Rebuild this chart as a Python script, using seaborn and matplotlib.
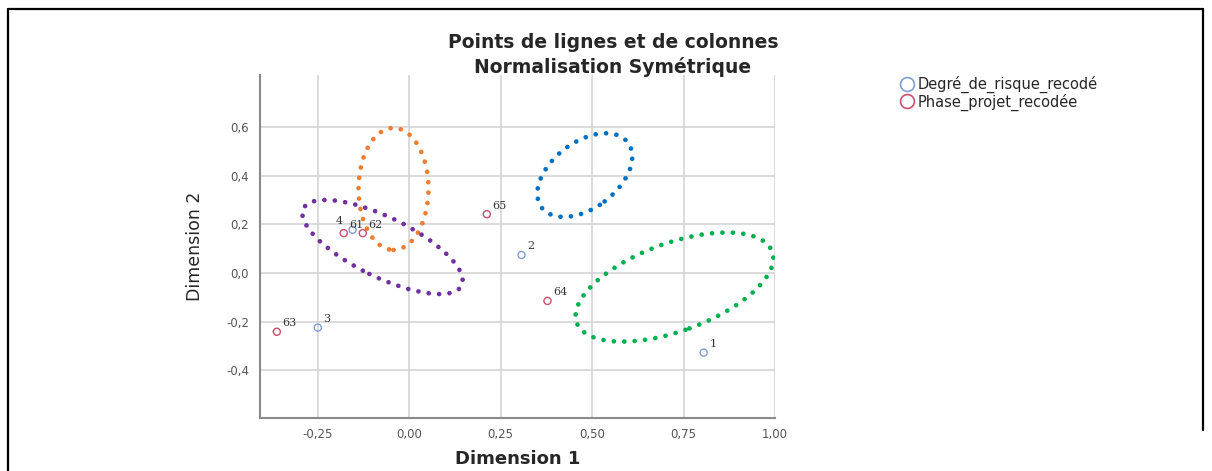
import matplotlib
matplotlib.use("Agg")
import matplotlib.pyplot as plt
import seaborn as sns
import pandas as pd
from matplotlib.patches import Ellipse
from matplotlib.lines import Line2D
from matplotlib.transforms import ScaledTranslation
from matplotlib.ticker import FuncFormatter

# Points
risque_labels = ["1", "2", "3", "4"]
risque_dim1 = [0.805, 0.307, -0.250, -0.155]
risque_dim2 = [-0.328, 0.074, -0.225, 0.178]

phase_labels = ["61", "62", "63", "64", "65"]
phase_dim1 = [-0.179, -0.127, -0.362, 0.378, 0.212]
phase_dim2 = [0.164, 0.164, -0.242, -0.115, 0.242]

series_names = ["Degré_de_risque_recodé", "Phase_projet_recodée"]
series_colors = ["#7f9fd6", "#c9506e"]

x_ticks = [-0.25, 0.00, 0.25, 0.50, 0.75, 1.00]
y_ticks = [-0.4, -0.2, 0.0, 0.2, 0.4, 0.6]

# Hand drawn dotted ellipses: centre (data), width/height (px), angle, colour
ellipse_centres = [(-0.043, 0.346), (-0.073, 0.107), (0.480, 0.403), (0.725, -0.058)]
ellipse_sizes = [(70, 122), (176, 60), (108, 66), (208, 88)]
ellipse_angles = [0, -26, 37, 20]
ellipse_colors = ["#ED7D31", "#7030A0", "#0070C0", "#00B050"]

df = pd.DataFrame({
    "Dim1": risque_dim1 + phase_dim1,
    "Dim2": risque_dim2 + phase_dim2,
    "label": risque_labels + phase_labels,
    "serie": [series_names[0]] * len(risque_labels) + [series_names[1]] * len(phase_labels),
})

sns.set_style("white")
plt.rcParams["font.family"] = ["DejaVu Sans"]

fig = plt.figure(figsize=(12.12, 4.71), dpi=100)
ax = fig.add_axes([260 / 1212, 1 - 418 / 471, 515 / 1212, 343 / 471])

sns.scatterplot(data=df, x="Dim1", y="Dim2", hue="serie", palette=series_colors,
                hue_order=series_names, s=26, marker="o", legend=False, ax=ax, zorder=3)
pts = ax.collections[0]
pts.set_edgecolors(pts.get_facecolors())
pts.set_facecolors("none")
pts.set_linewidths(1.0)

# Point labels
for _, row in df.iterrows():
    off = (-12, 4) if row["label"] == "4" else (4, 4)
    ax.annotate(row["label"], (row["Dim1"], row["Dim2"]), xytext=off,
                textcoords="offset points", fontsize=8, color="#333333",
                family="DejaVu Serif", zorder=4)

# Dotted ellipses
for (cx, cy), (w, h), ang, col in zip(ellipse_centres, ellipse_sizes, ellipse_angles, ellipse_colors):
    tr = fig.dpi_scale_trans + ScaledTranslation(cx, cy, ax.transData)
    e = Ellipse((0, 0), w / 100, h / 100, angle=ang, transform=tr, fill=False,
                edgecolor=col, linewidth=3.4, linestyle=(0, (0.01, 2.2)), zorder=5)
    e.set_capstyle("round")
    ax.add_patch(e)

ax.set_xlim(-0.408, 1.0)
ax.set_ylim(-0.597, 0.815)
ax.set_xticks(x_ticks)
ax.set_yticks(y_ticks)
ax.xaxis.set_major_formatter(FuncFormatter(lambda v, p: "{:.2f}".format(v).replace(".", ",")))
ax.yaxis.set_major_formatter(FuncFormatter(lambda v, p: "{:.1f}".format(v).replace(".", ",")))
ax.tick_params(axis="both", length=0, labelsize=8.5, labelcolor="#555555")
ax.tick_params(axis="x", pad=7)
ax.tick_params(axis="y", pad=8)
ax.grid(True, color="#d4d4d4", linewidth=1.2)
ax.set_axisbelow(True)
for side in ["top", "right"]:
    ax.spines[side].set_visible(False)
for side in ["left", "bottom"]:
    ax.spines[side].set_color("#8a8a8a")
    ax.spines[side].set_linewidth(1.5)

ax.set_xlabel("Dimension 1", fontsize=13, fontweight="bold", labelpad=7)
ax.set_ylabel("Dimension 2", fontsize=12.5, labelpad=16)

fig.text(613 / 1212, 1 - 43 / 471, "Points de lignes et de colonnes", ha="center", va="center",
         fontsize=13.5, fontweight="bold")
fig.text(613 / 1212, 1 - 67 / 471, "Normalisation Symétrique", ha="center", va="center",
         fontsize=13.5, fontweight="bold")

handles = [Line2D([], [], marker="o", linestyle="none", markerfacecolor="none",
                  markeredgecolor=c, markersize=10, markeredgewidth=1.2) for c in series_colors]
fig.legend(handles, series_names, loc="upper left", bbox_to_anchor=(891 / 1212, 1 - 66 / 471),
           frameon=False, handlelength=0.8, handletextpad=0.3, labelspacing=0.0,
           borderaxespad=0.3, prop={"family": "DejaVu Sans", "size": 10.5})

# Outer border of the picture
border = [((8, 8), (471, 9)), ((8, 1203), (9, 9)), ((1203, 1203), (9, 430))]
for xs, ys in border:
    fig.add_artist(Line2D([x / 1212 for x in xs], [1 - y / 471 for y in ys], color="black",
                          linewidth=1.6, transform=fig.transFigure))

fig.savefig("out.png", dpi=100)
